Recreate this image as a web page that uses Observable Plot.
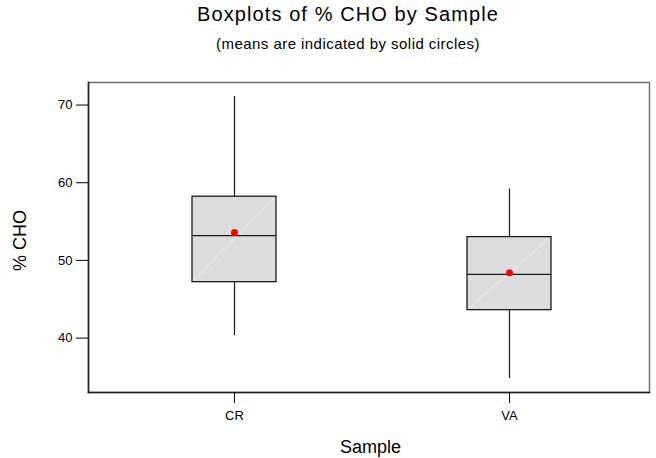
<!DOCTYPE html>
<html>
<head>
<meta charset="utf-8">
<script src="https://cdn.jsdelivr.net/npm/d3@7"></script>
<script src="https://cdn.jsdelivr.net/npm/@observablehq/plot@0.6"></script>
<style>
  body { margin: 0; background: #fff; font-family: "Liberation Sans", Arial, sans-serif; }
  #wrap { width: 656px; height: 458px; overflow: hidden; }
  #head { position: relative; width: 656px; height: 62px; }
  .t { position: absolute; left: 0; width: 696px; text-align: center; white-space: nowrap; color: #000; }
  #t1 { top: 3.8px; font-size: 20px; line-height: 20px; letter-spacing: 1.1px; }
  #t2 { top: 35.6px; font-size: 15px; line-height: 15px; letter-spacing: 0.45px; }
  #chart svg { display: block; }
</style>
</head>
<body>
<div id="wrap">
  <div id="head">
    <div class="t" id="t1">Boxplots of % CHO by Sample</div>
    <div class="t" id="t2">(means are indicated by solid circles)</div>
  </div>
  <div id="chart"></div>
</div>
<script>
const samples = ["CR", "VA"];
const mins    = [40.3, 34.8];
const q1s     = [47.2, 43.6];
const medians = [53.2, 48.2];
const q3s     = [58.2, 53.0];
const maxs    = [71.1, 59.2];
const means   = [53.6, 48.4];
const yTicks  = [40, 50, 60, 70];
const xLabel = "Sample";
const yLabel = "% CHO";

const data = samples.map((s, i) => ({
  sample: s, min: mins[i], q1: q1s[i], median: medians[i], q3: q3s[i], max: maxs[i], mean: means[i]
}));

function diagonal(index, scales, values, dimensions, context, next) {
  const g = next(index, scales, values, dimensions, context);
  const rects = Array.from(g.querySelectorAll("rect"));
  for (const r of rects) {
    const x = +r.getAttribute("x"), y = +r.getAttribute("y");
    const w = +r.getAttribute("width"), h = +r.getAttribute("height");
    const line = document.createElementNS("http://www.w3.org/2000/svg", "line");
    line.setAttribute("x1", x); line.setAttribute("y1", y + h);
    line.setAttribute("x2", x + w); line.setAttribute("y2", y);
    line.setAttribute("stroke", "#f2f2f2"); line.setAttribute("stroke-width", "0.8");
    r.parentNode.appendChild(line);
  }
  return g;
}

const chart = Plot.plot({
  width: 656,
  height: 396,
  marginTop: 20,
  marginLeft: 88,
  marginRight: 7,
  marginBottom: 66,
  style: { fontFamily: '"Liberation Sans", Arial, sans-serif', fontSize: "13px", color: "#000", background: "#fff", overflow: "visible" },
  x: { type: "band", domain: samples, paddingInner: 0.695, paddingOuter: 0.3675, align: 0.515, label: null },
  y: { domain: [33.0, 72.9], label: null },
  marks: [
    Plot.barY(data, { x: "sample", y1: "q1", y2: "q3", fill: "#dcdcdc", render: diagonal }),
    Plot.ruleX(data, { x: "sample", y1: "q3", y2: "max", stroke: "#1a1a1a", strokeWidth: 1.2 }),
    Plot.ruleX(data, { x: "sample", y1: "min", y2: "q1", stroke: "#1a1a1a", strokeWidth: 1.2 }),
    Plot.barY(data, { x: "sample", y1: "q1", y2: "q3", fill: "none", stroke: "#1a1a1a", strokeWidth: 1.3 }),
    Plot.tickY(data, { x: "sample", y: "median", stroke: "#1a1a1a", strokeWidth: 1.2 }),
    Plot.dot(data, { x: "sample", y: "mean", r: 3.5, fill: "#ff0000", stroke: "none" }),
    Plot.frame({ stroke: "#707070", strokeWidth: 1.5 }),
    Plot.frame({ anchor: "left", stroke: "#222", strokeWidth: 1.5 }),
    Plot.frame({ anchor: "bottom", stroke: "#222", strokeWidth: 1.5 }),
    Plot.axisY({ ticks: yTicks, tickSize: 12, tickPadding: 4, label: null, fontSize: 13, letterSpacing: 0.5 }),
    Plot.axisX({ tickSize: 11, tickPadding: 7, label: null, fontSize: 13 }),
    Plot.text([yLabel], { text: d => d, frameAnchor: "left", textAnchor: "middle", lineAnchor: "middle", rotate: -90, dx: -68, dy: 3, fontSize: 18 }),
    Plot.text([xLabel], { text: d => d, frameAnchor: "bottom", textAnchor: "middle", lineAnchor: "middle", dy: 55, dx: 1.5, fontSize: 18 })
  ]
});
document.getElementById("chart").appendChild(chart);
</script>
</body>
</html>
